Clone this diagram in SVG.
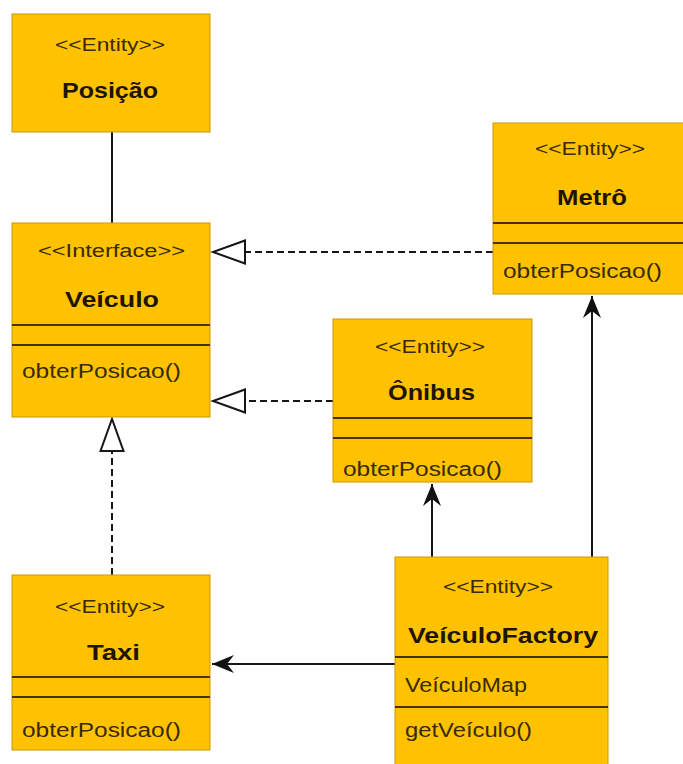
<svg xmlns="http://www.w3.org/2000/svg" width="683" height="764" viewBox="0 0 683 764">
  <style>
    .box { fill: #FEC200; stroke: #C99A00; stroke-width: 1; }
    .div { stroke: #4A3200; stroke-width: 2; }
    .st { font-family: "Liberation Sans", Arial, sans-serif; font-size: 18px; fill: #3A2A00; }
    .nm { font-family: "Liberation Sans", Arial, sans-serif; font-size: 22px; font-weight: bold; fill: #1E1400; }
    .mb { font-family: "Liberation Sans", Arial, sans-serif; font-size: 20px; fill: #3A2A00; }
    .solid { fill: none; stroke: #161616; stroke-width: 2; }
    .dash { fill: none; stroke: #161616; stroke-width: 2; stroke-dasharray: 7 4; }
  </style>
  <defs>
    <marker id="realize" markerUnits="userSpaceOnUse" markerWidth="34" markerHeight="26" refX="1" refY="12.5" orient="auto" overflow="visible">
      <path d="M1,1 L33,12.5 L1,24 Z" fill="#FFFFFF" stroke="#161616" stroke-width="2"/>
    </marker>
    <marker id="arrow" markerUnits="userSpaceOnUse" markerWidth="24" markerHeight="20" refX="22" refY="9" orient="auto" overflow="visible">
      <path d="M22,9 L0,0 L7,9 L0,18 Z" fill="#111111"/>
    </marker>
  </defs>

  <rect width="683" height="764" fill="#FFFFFF"/>

  <!-- connectors -->
  <g id="connectors">
    <!-- Posição – Veículo association -->
    <line class="solid" x1="112" y1="132" x2="112" y2="223"/>
    <!-- realizations of Veículo -->
    <line class="dash" x1="493" y1="252" x2="245" y2="252" marker-end="url(#realize)"/>
    <line class="dash" x1="333" y1="401" x2="245" y2="401" marker-end="url(#realize)"/>
    <line class="dash" x1="112" y1="575" x2="112" y2="451" marker-end="url(#realize)"/>
    <!-- factory dependencies -->
    <line class="solid" x1="432" y1="557" x2="432" y2="484" marker-end="url(#arrow)"/>
    <line class="solid" x1="592" y1="557" x2="592" y2="296" marker-end="url(#arrow)"/>
    <line class="solid" x1="395" y1="664" x2="212" y2="664" marker-end="url(#arrow)"/>
  </g>

  <!-- Posição -->
  <g id="posicao">
    <rect class="box" x="12" y="14" width="198" height="118"/>
    <text class="st" x="55" y="51" textLength="110" lengthAdjust="spacingAndGlyphs">&lt;&lt;Entity&gt;&gt;</text>
    <text class="nm" x="62" y="98" textLength="96" lengthAdjust="spacingAndGlyphs">Posição</text>
  </g>

  <!-- Veículo -->
  <g id="veiculo">
    <rect class="box" x="12" y="223" width="198" height="194"/>
    <text class="st" x="38" y="257" textLength="147" lengthAdjust="spacingAndGlyphs">&lt;&lt;Interface&gt;&gt;</text>
    <text class="nm" x="65" y="307" textLength="94" lengthAdjust="spacingAndGlyphs">Veículo</text>
    <line class="div" x1="12" y1="325" x2="210" y2="325"/>
    <line class="div" x1="12" y1="345" x2="210" y2="345"/>
    <text class="mb" x="22" y="378" textLength="159" lengthAdjust="spacingAndGlyphs">obterPosicao()</text>
  </g>

  <!-- Metrô -->
  <g id="metro">
    <rect class="box" x="493" y="123" width="198" height="171"/>
    <text class="st" x="535" y="155" textLength="110" lengthAdjust="spacingAndGlyphs">&lt;&lt;Entity&gt;&gt;</text>
    <text class="nm" x="557" y="205" textLength="70" lengthAdjust="spacingAndGlyphs">Metrô</text>
    <line class="div" x1="493" y1="223" x2="683" y2="223"/>
    <line class="div" x1="493" y1="243" x2="683" y2="243"/>
    <text class="mb" x="503" y="278" textLength="159" lengthAdjust="spacingAndGlyphs">obterPosicao()</text>
  </g>

  <!-- Ônibus -->
  <g id="onibus">
    <rect class="box" x="333" y="319" width="199" height="163"/>
    <text class="st" x="375" y="353" textLength="110" lengthAdjust="spacingAndGlyphs">&lt;&lt;Entity&gt;&gt;</text>
    <text class="nm" x="388" y="400" textLength="87" lengthAdjust="spacingAndGlyphs">Ônibus</text>
    <line class="div" x1="333" y1="418" x2="532" y2="418"/>
    <line class="div" x1="333" y1="438" x2="532" y2="438"/>
    <text class="mb" x="343" y="476" textLength="159" lengthAdjust="spacingAndGlyphs">obterPosicao()</text>
  </g>

  <!-- Taxi -->
  <g id="taxi">
    <rect class="box" x="12" y="575" width="198" height="175"/>
    <text class="st" x="55" y="613" textLength="110" lengthAdjust="spacingAndGlyphs">&lt;&lt;Entity&gt;&gt;</text>
    <text class="nm" x="87" y="660" textLength="53" lengthAdjust="spacingAndGlyphs">Taxi</text>
    <line class="div" x1="12" y1="677" x2="210" y2="677"/>
    <line class="div" x1="12" y1="697" x2="210" y2="697"/>
    <text class="mb" x="22" y="737" textLength="159" lengthAdjust="spacingAndGlyphs">obterPosicao()</text>
  </g>

  <!-- VeículoFactory -->
  <g id="veiculo-factory">
    <rect class="box" x="395" y="557" width="213" height="215"/>
    <text class="st" x="443" y="593" textLength="110" lengthAdjust="spacingAndGlyphs">&lt;&lt;Entity&gt;&gt;</text>
    <text class="nm" x="408" y="643" textLength="190" lengthAdjust="spacingAndGlyphs">VeículoFactory</text>
    <line class="div" x1="395" y1="657" x2="608" y2="657"/>
    <text class="mb" x="405" y="692" textLength="122" lengthAdjust="spacingAndGlyphs">VeículoMap</text>
    <line class="div" x1="395" y1="707" x2="608" y2="707"/>
    <text class="mb" x="405" y="737" textLength="127" lengthAdjust="spacingAndGlyphs">getVeículo()</text>
  </g>
</svg>
